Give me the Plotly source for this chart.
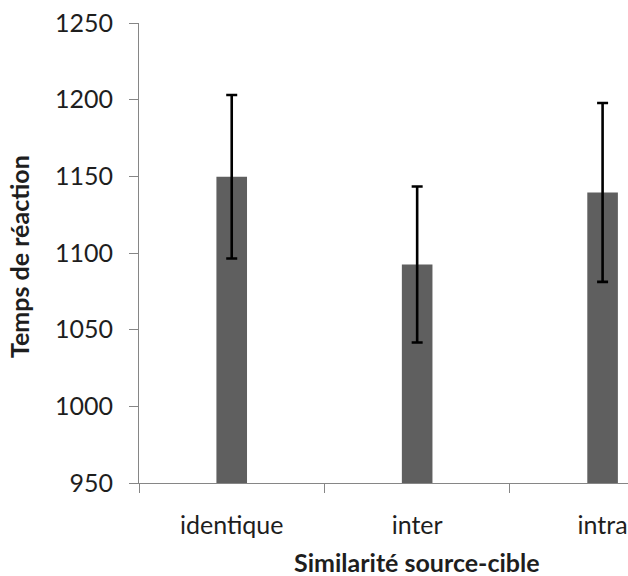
import plotly.graph_objects as go

# Mean reaction time per source-target similarity condition, with error margins
categories = ["identique", "inter", "intra"]
mean_rt = [1149.7, 1092.5, 1139.5]
error_rt = [53.3, 50.9, 58.3]

y_ticks = [950, 1000, 1050, 1100, 1150, 1200, 1250]

FONT = "Lato"
AXIS_GREY = "#868686"
TEXT = "#1e1e1e"

fig = go.Figure(
    go.Bar(
        x=categories,
        y=mean_rt,
        width=0.165,
        marker=dict(color="#5f5f5f", line=dict(width=0)),
        error_y=dict(
            type="data",
            array=error_rt,
            visible=True,
            color="black",
            thickness=2.6,
            width=5.5,
        ),
        hoverinfo="x+y",
    )
)

fig.update_layout(
    width=628,
    height=576,
    margin=dict(l=139, r=0, t=23, b=93, pad=0),
    paper_bgcolor="white",
    plot_bgcolor="white",
    showlegend=False,
    font=dict(family=FONT, size=25, color=TEXT),
    xaxis=dict(
        type="category",
        range=[-0.5, 2.137],
        showline=True,
        linecolor=AXIS_GREY,
        linewidth=1,
        ticks="outside",
        tickson="boundaries",
        ticklen=9,
        tickcolor=AXIS_GREY,
        tickwidth=1,
        showgrid=False,
        zeroline=False,
        tickfont=dict(family=FONT, size=25, color=TEXT),
        ticklabelstandoff=20,
    ),
    yaxis=dict(
        range=[950, 1250],
        tickvals=y_ticks,
        showline=True,
        linecolor=AXIS_GREY,
        linewidth=1,
        ticks="outside",
        ticklen=9,
        tickcolor=AXIS_GREY,
        tickwidth=1,
        showgrid=False,
        zeroline=False,
        tickfont=dict(family=FONT, size=25, color=TEXT),
        ticklabelstandoff=11,
    ),
    annotations=[
        dict(
            text="<b>Similarité source-cible</b>",
            x=1,
            xref="x",
            y=0,
            yref="paper",
            xanchor="center",
            yanchor="middle",
            yshift=-79,
            showarrow=False,
            font=dict(family=FONT, size=25, color=TEXT),
        ),
        dict(
            text="<b>Temps de réaction</b>",
            x=0,
            xref="paper",
            y=0.5,
            yref="paper",
            xanchor="center",
            yanchor="middle",
            xshift=-120,
            yshift=-4,
            textangle=-90,
            showarrow=False,
            font=dict(family=FONT, size=25, color=TEXT),
        ),
    ],
)

fig.write_html("out.html")
